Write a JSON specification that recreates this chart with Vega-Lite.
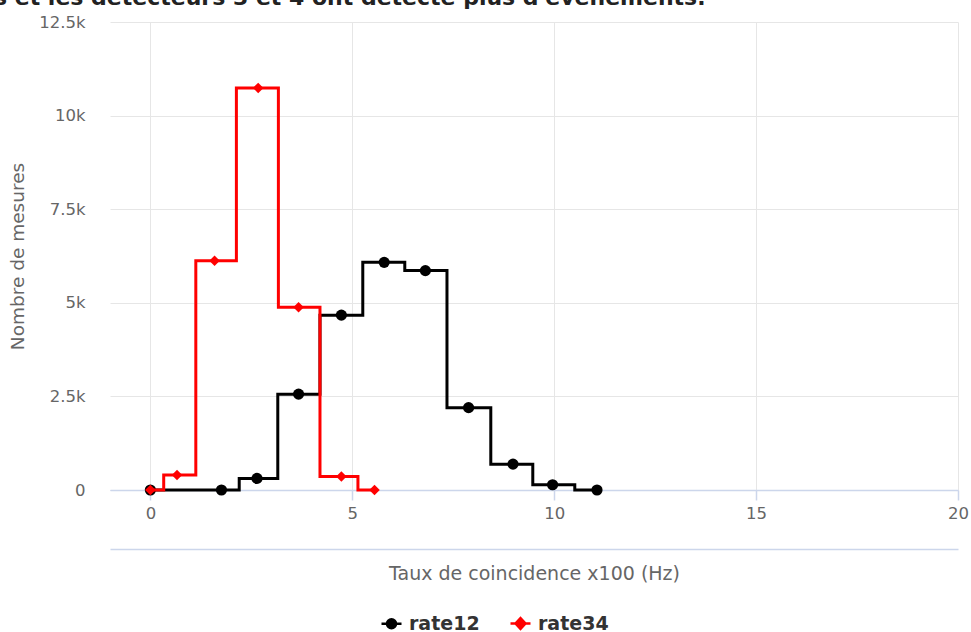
{
  "$schema": "https://vega.github.io/schema/vega-lite/v6.json",
  "width": 848,
  "height": 468,
  "autosize": {"type": "none"},
  "padding": {"left": 110, "top": 22, "right": 13, "bottom": 142},
  "background": "white",
  "title": {
    "text": "s et les détecteurs 3 et 4 ont détecté plus d'événements.",
    "anchor": "start",
    "dx": -14,
    "offset": 4,
    "font": "DejaVu Sans",
    "fontSize": 22,
    "fontWeight": "bold",
    "color": "#222222"
  },
  "config": {"view": {"stroke": null}, "font": "DejaVu Sans"},
  "data": {
    "values": [
      {"series": "rate12", "taux": 0, "mesures": 0},
      {"series": "rate12", "taux": 1.76, "mesures": 0},
      {"series": "rate12", "taux": 2.64, "mesures": 310},
      {"series": "rate12", "taux": 3.67, "mesures": 2560},
      {"series": "rate12", "taux": 4.73, "mesures": 4670},
      {"series": "rate12", "taux": 5.79, "mesures": 6080},
      {"series": "rate12", "taux": 6.81, "mesures": 5860},
      {"series": "rate12", "taux": 7.88, "mesures": 2200},
      {"series": "rate12", "taux": 8.98, "mesures": 690},
      {"series": "rate12", "taux": 9.96, "mesures": 140},
      {"series": "rate12", "taux": 11.06, "mesures": 0},
      {"series": "rate34", "taux": 0, "mesures": 0},
      {"series": "rate34", "taux": 0.66, "mesures": 400},
      {"series": "rate34", "taux": 1.59, "mesures": 6120},
      {"series": "rate34", "taux": 2.67, "mesures": 10740},
      {"series": "rate34", "taux": 3.67, "mesures": 4880},
      {"series": "rate34", "taux": 4.73, "mesures": 360},
      {"series": "rate34", "taux": 5.55, "mesures": 0}
    ]
  },
  "layer": [
    {
      "transform": [{"filter": "datum.series === 'rate12'"}],
      "encoding": {
        "x": {
          "field": "taux",
          "type": "quantitative",
          "scale": {"domain": [-1, 20], "nice": false, "zero": false},
          "axis": {
            "values": [0, 5, 10, 15, 20],
            "title": null,
            "grid": true,
            "gridColor": "#e6e6e6",
            "gridWidth": 1,
            "domainColor": "#ccd6eb",
            "domainWidth": 1.5,
            "tickColor": "#ccd6eb",
            "tickSize": 10,
            "tickWidth": 1.5,
            "labelColor": "#666666",
            "labelFontSize": 16.5,
            "labelFont": "DejaVu Sans",
            "labelPadding": 5,
            "labelFlush": false,
            "labelOverlap": false,
            "format": "d"
          }
        },
        "y": {
          "field": "mesures",
          "type": "quantitative",
          "scale": {"domain": [0, 12500], "nice": false},
          "axis": {
            "values": [0, 2500, 5000, 7500, 10000, 12500],
            "title": "Nombre de mesures",
            "domain": false,
            "ticks": false,
            "grid": true,
            "gridColor": {"condition": {"test": "datum.value === 0", "value": "#ccd6eb"}, "value": "#e6e6e6"},
            "gridWidth": 1,
            "labelExpr": "datum.value === 0 ? '0' : format(datum.value / 1000, '~g') + 'k'",
            "labelColor": "#666666",
            "labelFontSize": 16.5,
            "labelFont": "DejaVu Sans",
            "labelPadding": 25,
            "titleColor": "#666666",
            "titleFontSize": 18.5,
            "titleFontWeight": "normal",
            "titleFont": "DejaVu Sans",
            "titleX": -93,
            "titleY": 234,
            "titleBaseline": "middle",
            "titleAlign": "center"
          }
        },
        "color": {
          "field": "series",
          "type": "nominal",
          "scale": {"domain": ["rate12", "rate34"], "range": ["#000000", "#ff0000"]},
          "legend": {
            "title": null,
            "orient": "none",
            "legendX": 270,
            "legendY": 590,
            "direction": "horizontal",
            "padding": 0,
            "labelFontSize": 19,
            "labelFontWeight": "bold",
            "labelColor": "#333333",
            "labelFont": "DejaVu Sans",
            "labelOffset": 6,
            "columnPadding": 25,
            "symbolSize": 400,
            "symbolStrokeWidth": 2.5,
            "encode": {
              "symbols": {
                "update": {
                  "shape": {"signal": "datum.value === 'rate12' ? 'M-1,0L1,0M-0.45,0A0.45,0.45,0,1,1,0.45,0A0.45,0.45,0,1,1,-0.45,0Z' : 'M-1,0L1,0M0,-0.55L0.5,0L0,0.55L-0.5,0Z'"},
                  "fill": {"signal": "datum.value === 'rate12' ? '#000000' : '#ff0000'"},
                  "stroke": {"signal": "datum.value === 'rate12' ? '#000000' : '#ff0000'"},
                  "fillOpacity": {"value": 1},
                  "strokeWidth": {"value": 2.5},
                  "size": {"value": 400}
                }
              }
            }
          }
        }
      },
      "layer": [
        {"mark": {"type": "line", "interpolate": "step", "strokeWidth": 3}},
        {"mark": {"type": "point", "filled": true, "shape": "circle", "size": 125, "opacity": 1}}
      ]
    },
    {
      "transform": [{"filter": "datum.series === 'rate34'"}],
      "encoding": {
        "x": {
          "field": "taux",
          "type": "quantitative",
          "scale": {"domain": [-1, 20], "nice": false, "zero": false},
          "axis": {
            "orient": "bottom",
            "offset": 59,
            "labels": false,
            "ticks": false,
            "grid": false,
            "domainColor": "#ccd6eb",
            "domainWidth": 1.5,
            "title": "Taux de coincidence x100 (Hz)",
            "titleColor": "#666666",
            "titleFontSize": 19,
            "titleFontWeight": "normal",
            "titleFont": "DejaVu Sans",
            "titlePadding": 15
          }
        },
        "y": {
          "field": "mesures",
          "type": "quantitative",
          "scale": {"domain": [0, 12500], "nice": false},
          "axis": {
            "values": [0, 2500, 5000, 7500, 10000, 12500],
            "title": "Nombre de mesures",
            "domain": false,
            "ticks": false,
            "grid": true,
            "gridColor": {"condition": {"test": "datum.value === 0", "value": "#ccd6eb"}, "value": "#e6e6e6"},
            "gridWidth": 1,
            "labelExpr": "datum.value === 0 ? '0' : format(datum.value / 1000, '~g') + 'k'",
            "labelColor": "#666666",
            "labelFontSize": 16.5,
            "labelFont": "DejaVu Sans",
            "labelPadding": 25,
            "titleColor": "#666666",
            "titleFontSize": 18.5,
            "titleFontWeight": "normal",
            "titleFont": "DejaVu Sans",
            "titleX": -93,
            "titleY": 234,
            "titleBaseline": "middle",
            "titleAlign": "center"
          }
        },
        "color": {
          "field": "series",
          "type": "nominal",
          "scale": {"domain": ["rate12", "rate34"], "range": ["#000000", "#ff0000"]},
          "legend": {
            "title": null,
            "orient": "none",
            "legendX": 270,
            "legendY": 590,
            "direction": "horizontal",
            "padding": 0,
            "labelFontSize": 19,
            "labelFontWeight": "bold",
            "labelColor": "#333333",
            "labelFont": "DejaVu Sans",
            "labelOffset": 6,
            "columnPadding": 25,
            "symbolSize": 400,
            "symbolStrokeWidth": 2.5,
            "encode": {
              "symbols": {
                "update": {
                  "shape": {"signal": "datum.value === 'rate12' ? 'M-1,0L1,0M-0.45,0A0.45,0.45,0,1,1,0.45,0A0.45,0.45,0,1,1,-0.45,0Z' : 'M-1,0L1,0M0,-0.55L0.5,0L0,0.55L-0.5,0Z'"},
                  "fill": {"signal": "datum.value === 'rate12' ? '#000000' : '#ff0000'"},
                  "stroke": {"signal": "datum.value === 'rate12' ? '#000000' : '#ff0000'"},
                  "fillOpacity": {"value": 1},
                  "strokeWidth": {"value": 2.5},
                  "size": {"value": 400}
                }
              }
            }
          }
        }
      },
      "layer": [
        {"mark": {"type": "line", "interpolate": "step", "strokeWidth": 3}},
        {"mark": {"type": "point", "filled": true, "shape": "diamond", "size": 110, "opacity": 1}}
      ]
    }
  ],
  "resolve": {"axis": {"x": "independent"}}
}
